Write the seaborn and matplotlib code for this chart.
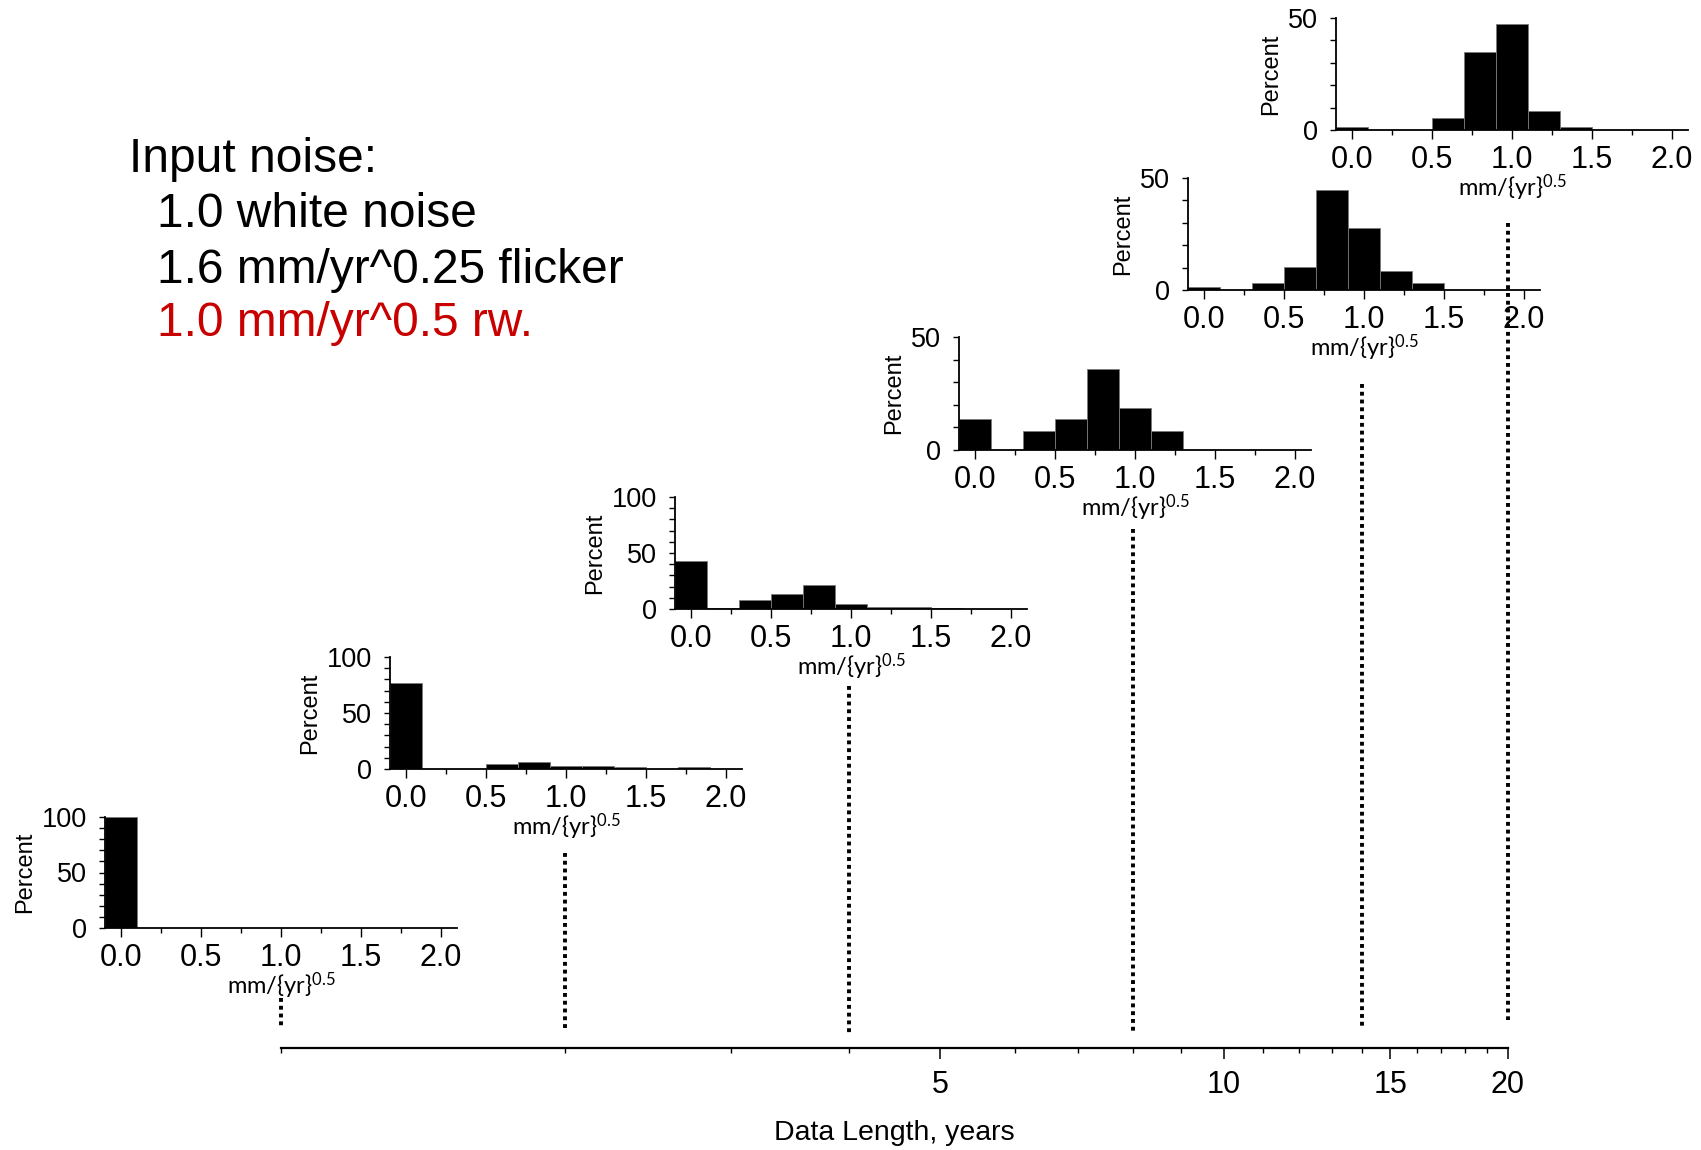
import numpy as np
import matplotlib
matplotlib.use("Agg")
import matplotlib.pyplot as plt
import seaborn as sns
from matplotlib.ticker import FixedLocator, MultipleLocator, NullFormatter, FixedFormatter

# ---------------- data ----------------
data_lengths = [1, 2, 4, 8, 14, 20]          # years (one histogram per data length)
bin_centers = [0.0, 0.2, 0.4, 0.6, 0.8, 1.0, 1.2, 1.4, 1.6, 1.8, 2.0]   # mm/yr^0.5
pct_1yr = [100, 0, 0, 0, 0, 0, 0, 0, 0, 0, 0]
pct_2yr = [77, 0, 0, 4.8, 6.3, 2.7, 2.7, 1.5, 0.3, 1.5, 0]
pct_4yr = [42.7, 1.0, 8.0, 13.1, 21.7, 4.5, 1.5, 1.5, 1.2, 0.3, 0.3]
pct_8yr = [13.6, 0, 8.6, 13.6, 36.0, 18.8, 8.6, 0, 0, 0, 0]
pct_14yr = [1.3, 0, 3.3, 10.1, 44.8, 27.6, 8.5, 3.3, 0, 0, 0]
pct_20yr = [1.3, 0, 0, 5.2, 34.8, 47.3, 8.7, 1.3, 0, 0, 0]
percent_series = [pct_1yr, pct_2yr, pct_4yr, pct_8yr, pct_14yr, pct_20yr]
percent_max = [100, 100, 100, 50, 50, 50]

hist_ticks = [0.0, 0.5, 1.0, 1.5, 2.0]
hist_tick_labels = ["0.0", "0.5", "1.0", "1.5", "2.0"]
year_ticks = [5, 10, 15, 20]
year_tick_labels = ["5", "10", "15", "20"]
year_minor_ticks = [1, 2, 3, 4, 6, 7, 8, 9, 11, 12, 13, 14, 16, 17, 18, 19]

title_lines = ["Input noise:", "1.0 white noise", "1.6 mm/yr^0.25 flicker", "1.0 mm/yr^0.5 rw."]
title_colors = ["black", "black", "black", "#c80000"]

# ---------------- layout (pixels of a 1701 x 1150 canvas) ----------------
W, H = 1701, 1150
AX_LEFT, AX_RIGHT, AX_Y = 281, 1508, 1048
# inset: left edge, y of zero line, y of top tick
inset_px = [(105, 928, 817), (390, 769, 657), (675, 609, 497),
            (959, 450, 337), (1188, 290, 178), (1336, 130, 18)]
INSET_W = 352
dash_top = [998, 853, 686, 529, 384, 223]
dash_bottom = [1028, 1031, 1036, 1033, 1028, 1020]
title_pos = [(129, 172), (157, 227), (157, 283), (157, 336)]

sns.set_theme(style="ticks")
plt.rcParams["font.family"] = ["Liberation Sans", "DejaVu Sans"]
plt.rcParams["mathtext.fontset"] = "custom"
plt.rcParams["mathtext.rm"] = "Lato"
plt.rcParams["mathtext.it"] = "Lato:italic"
plt.rcParams["mathtext.bf"] = "Lato:bold"

fig = plt.figure(figsize=(W / 100, H / 100), dpi=100)
fig.patch.set_facecolor("white")

# ---------------- main log axis ----------------
main = fig.add_axes([AX_LEFT / W, 1 - AX_Y / H, (AX_RIGHT - AX_LEFT) / W, AX_Y / H])
main.set_facecolor("none")
main.set_xscale("log")
main.set_xlim(1, 20)
main.set_ylim(AX_Y, 0)
for s in ["top", "left", "right"]:
    main.spines[s].set_visible(False)
main.spines["bottom"].set_linewidth(1.6)
main.spines["bottom"].set_color("black")
main.set_yticks([])
main.xaxis.set_major_locator(FixedLocator(year_ticks))
main.xaxis.set_major_formatter(FixedFormatter(year_tick_labels))
main.xaxis.set_minor_locator(FixedLocator(year_minor_ticks))
main.xaxis.set_minor_formatter(NullFormatter())
main.tick_params(axis="x", which="major", direction="out", length=8, width=1.1,
                 labelsize=22, pad=8, color="black", labelcolor="black")
main.tick_params(axis="x", which="minor", direction="out", length=3.6, width=1.0, color="black")
main.set_xlabel("Data Length, years", fontsize=20.5, labelpad=14, color="black")

main.vlines(data_lengths, dash_top, dash_bottom, colors="black",
            linestyles=[(0, (1.0, 1.0))], linewidth=2.8, capstyle="butt", clip_on=False)

# ---------------- histograms ----------------
for (left, y0, ytop), pcts, ymax in zip(inset_px, percent_series, percent_max):
    ax = fig.add_axes([left / W, 1 - y0 / H, INSET_W / W, (y0 - ytop) / H])
    ax.set_facecolor("none")
    sns.histplot(x=bin_centers, weights=pcts, binwidth=0.2, binrange=(-0.1, 2.1),
                 ax=ax, color="black", alpha=1, edgecolor="#7a7a7a", linewidth=0.6)
    ax.set_xlim(-0.1, 2.1)
    ax.set_ylim(0, ymax)
    ax.spines["top"].set_visible(False)
    ax.spines["right"].set_visible(False)
    for s in ["left", "bottom"]:
        ax.spines[s].set_linewidth(1.3)
        ax.spines[s].set_color("black")
    ax.xaxis.set_major_locator(FixedLocator(hist_ticks))
    ax.xaxis.set_major_formatter(FixedFormatter(hist_tick_labels))
    ax.xaxis.set_minor_locator(MultipleLocator(0.25))
    ax.yaxis.set_major_locator(MultipleLocator(50))
    ax.yaxis.set_minor_locator(MultipleLocator(10))
    ax.tick_params(axis="x", which="major", direction="out", length=6.5, width=1.0,
                   labelsize=22, pad=4.5, color="black", labelcolor="black")
    ax.tick_params(axis="x", which="minor", direction="out", length=3.5, width=1.0, color="black")
    ax.tick_params(axis="y", which="major", direction="out", length=4.2, width=1.0,
                   labelsize=19.5, pad=9, color="black", labelcolor="black")
    ax.tick_params(axis="y", which="minor", direction="out", length=4.2, width=1.0, color="black")
    ax.set_ylabel("Percent", fontsize=17, labelpad=4, color="black")
    ax.set_xlabel("mm/{yr}$^{0.5}$", fontsize=17, labelpad=-2, color="black",
                  fontfamily=["Lato", "DejaVu Sans"])

# ---------------- annotation text ----------------
for (tx, ty), line, col in zip(title_pos, title_lines, title_colors):
    fig.text(tx / W, 1 - ty / H, line, fontsize=34.5, color=col, va="baseline", ha="left")

fig.savefig("out.png", dpi=100, facecolor="white")
